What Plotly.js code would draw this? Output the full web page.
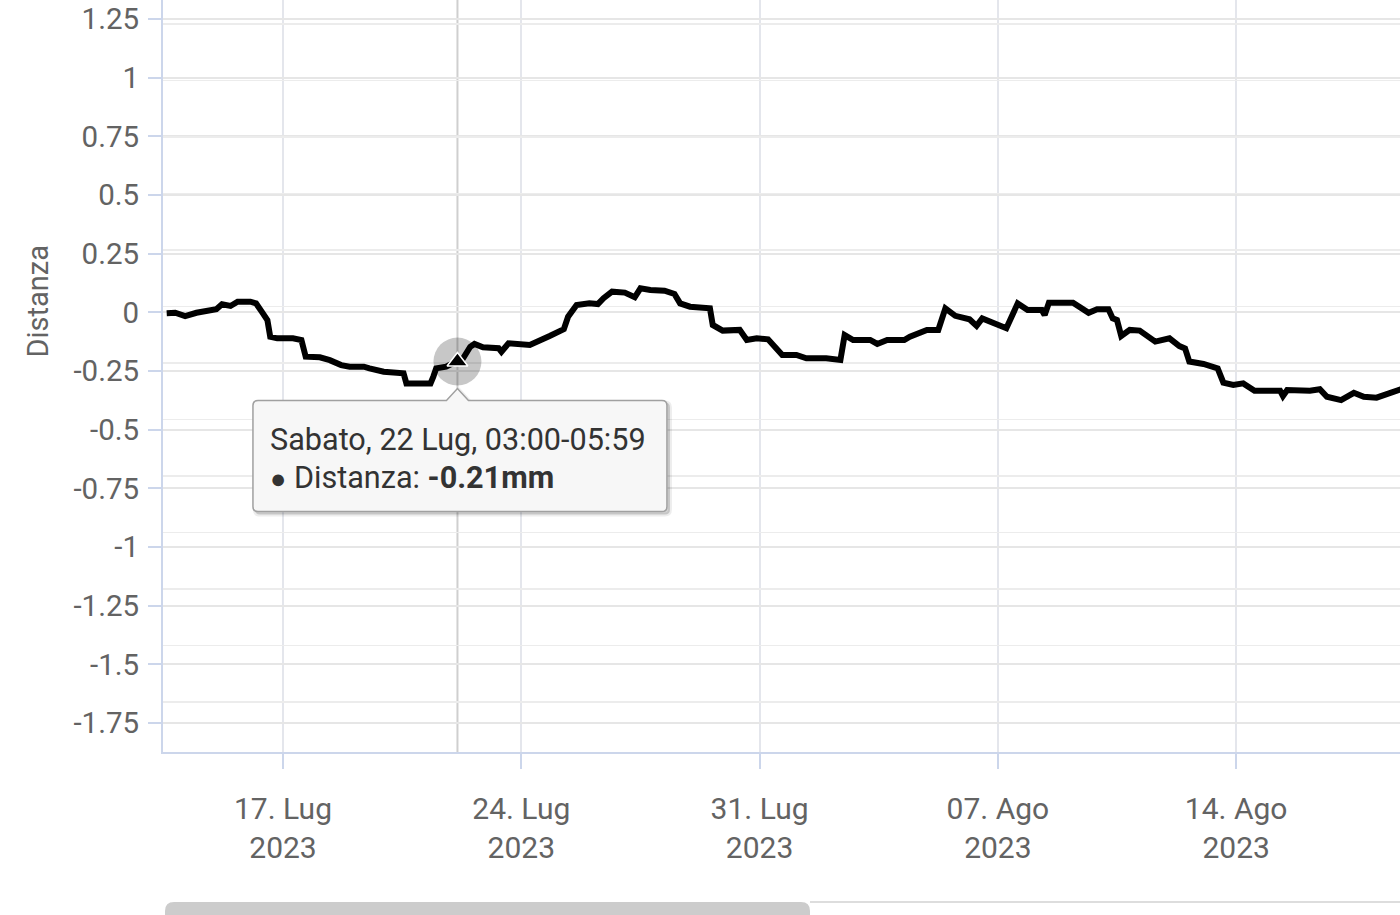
<!DOCTYPE html>
<html>
<head>
<meta charset="utf-8">
<script src="https://cdn.plot.ly/plotly-3.0.1.min.js"></script>
<style>
  html, body { margin: 0; padding: 0; background: #ffffff; }
  #chart { width: 1400px; height: 915px; }
</style>
</head>
<body>
<div id="chart"></div>
<script>
// ---- data ----
const seriesName = "Distanza";
const unit = "mm";
const dates = [
  "2023-07-13 14:00","2023-07-13 20:00","2023-07-14 03:00","2023-07-14 11:00","2023-07-15 01:00",
  "2023-07-15 05:00","2023-07-15 11:00","2023-07-15 16:00","2023-07-16 01:00","2023-07-16 05:00",
  "2023-07-16 09:00","2023-07-16 11:00","2023-07-16 13:00","2023-07-16 15:00","2023-07-16 20:00",
  "2023-07-17 07:00","2023-07-17 13:00","2023-07-17 16:00","2023-07-18 02:00","2023-07-18 09:00",
  "2023-07-18 17:00","2023-07-18 23:00","2023-07-19 09:00","2023-07-19 13:00","2023-07-19 23:00",
  "2023-07-20 13:00","2023-07-20 15:00","2023-07-20 22:00","2023-07-21 08:00","2023-07-21 10:00",
  "2023-07-21 12:00","2023-07-21 19:00","2023-07-22 03:00","2023-07-22 07:00","2023-07-22 12:00",
  "2023-07-22 15:00","2023-07-22 21:00","2023-07-23 08:00","2023-07-23 10:00","2023-07-23 15:00",
  "2023-07-24 06:00","2023-07-24 12:00","2023-07-24 20:00","2023-07-25 06:00","2023-07-25 09:00",
  "2023-07-25 15:00","2023-07-26 00:00","2023-07-26 06:00","2023-07-26 10:00","2023-07-26 16:00",
  "2023-07-27 01:00","2023-07-27 08:00","2023-07-27 12:00","2023-07-27 19:00","2023-07-28 05:00",
  "2023-07-28 12:00","2023-07-28 16:00","2023-07-28 23:00","2023-07-29 13:00","2023-07-29 15:00",
  "2023-07-29 22:00","2023-07-30 10:00","2023-07-30 15:00","2023-07-30 22:00","2023-07-31 06:00",
  "2023-07-31 16:00","2023-08-01 02:00","2023-08-01 09:00","2023-08-01 23:00","2023-08-02 09:00",
  "2023-08-02 12:00","2023-08-02 18:00","2023-08-03 06:00","2023-08-03 11:00","2023-08-03 18:00",
  "2023-08-04 06:00","2023-08-04 10:00","2023-08-04 22:00","2023-08-05 06:00","2023-08-05 11:00",
  "2023-08-05 18:00","2023-08-06 04:00","2023-08-06 09:00","2023-08-06 13:00","2023-08-06 21:00",
  "2023-08-07 06:00","2023-08-07 14:00","2023-08-07 21:00","2023-08-08 07:00","2023-08-08 09:00",
  "2023-08-08 12:00","2023-08-09 05:00","2023-08-09 16:00","2023-08-09 22:00","2023-08-10 06:00",
  "2023-08-10 09:00","2023-08-10 12:00","2023-08-10 15:00","2023-08-10 21:00","2023-08-11 04:00",
  "2023-08-11 15:00","2023-08-12 01:00","2023-08-12 08:00","2023-08-12 12:00","2023-08-12 15:00",
  "2023-08-13 01:00","2023-08-13 11:00","2023-08-13 15:00","2023-08-13 22:00","2023-08-14 05:00",
  "2023-08-14 13:00","2023-08-15 07:00","2023-08-15 09:00","2023-08-15 12:00","2023-08-16 04:00",
  "2023-08-16 11:00","2023-08-16 16:00","2023-08-17 02:00","2023-08-17 11:00","2023-08-17 18:00",
  "2023-08-18 03:00","2023-08-18 08:00","2023-08-18 20:00","2023-08-19 02:00"
];
const values = [
  -0.004,-0.002,-0.016,-0.002,0.013,
  0.034,0.027,0.045,0.045,0.038,
  0.003,-0.019,-0.033,-0.104,-0.111,
  -0.111,-0.118,-0.189,-0.192,-0.204,
  -0.225,-0.232,-0.232,-0.239,-0.253,
  -0.260,-0.303,-0.303,-0.303,-0.274,
  -0.239,-0.232,-0.21,-0.196,-0.147,
  -0.135,-0.149,-0.153,-0.168,-0.132,
  -0.139,-0.125,-0.101,-0.072,-0.019,
  0.031,0.038,0.035,0.060,0.088,
  0.084,0.064,0.102,0.095,0.092,
  0.078,0.038,0.024,0.017,-0.054,
  -0.078,-0.075,-0.118,-0.111,-0.115,
  -0.182,-0.182,-0.196,-0.196,-0.203,
  -0.097,-0.118,-0.118,-0.135,-0.118,
  -0.118,-0.104,-0.075,-0.075,0.017,
  -0.015,-0.030,-0.058,-0.026,-0.044,
  -0.068,0.038,0.010,0.010,-0.012,
  0.041,0.041,-0.002,0.013,0.013,
  -0.026,-0.033,-0.101,-0.075,-0.078,
  -0.125,-0.111,-0.144,-0.154,-0.21,
  -0.22,-0.239,-0.30,-0.31,-0.303,
  -0.334,-0.334,-0.357,-0.331,-0.334,
  -0.328,-0.36,-0.374,-0.343,-0.36,
  -0.364,-0.352,-0.328,-0.318
];
const xTickDates = ["2023-07-17","2023-07-24","2023-07-31","2023-08-07","2023-08-14"];
const xTickLabels = ["17. Lug<br>2023","24. Lug<br>2023","31. Lug<br>2023","07. Ago<br>2023","14. Ago<br>2023"];
const yTickVals = [1.25,1,0.75,0.5,0.25,0,-0.25,-0.5,-0.75,-1,-1.25,-1.5,-1.75];
const yTickLabels = ["1.25","1","0.75","0.5","0.25","0","-0.25","-0.5","-0.75","-1","-1.25","-1.5","-1.75"];
// hovered point (tooltip)
const hoverDate = "2023-07-22 03:00";
const hoverValue = -0.21;
const hoverHeader = "Sabato, 22 Lug, 03:00-05:59";

// ---- styling ----
const FONT = "Roboto, 'Noto Sans', sans-serif";
const labelColor = "#636363";

const traces = [
  { type: "scatter", mode: "lines", x: dates, y: values, name: seriesName,
    line: { color: "#000000", width: 6 }, hoverinfo: "skip" },
  { type: "scatter", mode: "markers", x: [hoverDate], y: [hoverValue], showlegend: false,
    marker: { size: 48, color: "rgba(0,0,0,0.22)", line: { width: 0 } }, hoverinfo: "skip" },
  { type: "scatter", mode: "markers", x: [hoverDate], y: [hoverValue], showlegend: false,
    marker: { symbol: "triangle-up", size: 18, color: "#000000", line: { color: "#ffffff", width: 1.5 } }, hoverinfo: "skip" },
  { type: "scatter", x: [], y: [], yaxis: "y2", showlegend: false, hoverinfo: "skip" }
];

// tooltip box path, pixels relative to the hovered point (y positive upward)
const tipPath = "M -199.5,-39 L -11,-39 L 0,-27 L 11,-39 L 204.5,-39 Q 209.5,-39 209.5,-44 " +
  "L 209.5,-145 Q 209.5,-150 204.5,-150 L -199.5,-150 Q -204.5,-150 -204.5,-145 L -204.5,-44 Q -204.5,-39 -199.5,-39 Z";
const tipShadow = "M -197.5,-41 L -9,-41 L 2,-29 L 13,-41 L 207.5,-41 Q 212.5,-41 212.5,-46 " +
  "L 212.5,-148 Q 212.5,-153 207.5,-153 L -197.5,-153 Q -202.5,-153 -202.5,-148 L -202.5,-46 Q -202.5,-41 -197.5,-41 Z";

const shapes = [
  // crosshair
  { type: "line", xref: "x", yref: "paper", x0: hoverDate, x1: hoverDate, y0: 0, y1: 1,
    line: { color: "#cfcfcf", width: 2 }, layer: "between" },
  // tooltip shadow + box
  { type: "path", xref: "x", yref: "y", xsizemode: "pixel", ysizemode: "pixel",
    xanchor: hoverDate, yanchor: hoverValue, path: tipShadow,
    fillcolor: "rgba(0,0,0,0.16)", line: { color: "rgba(0,0,0,0.07)", width: 4 }, layer: "above" },
  { type: "path", xref: "x", yref: "y", xsizemode: "pixel", ysizemode: "pixel",
    xanchor: hoverDate, yanchor: hoverValue, path: tipPath,
    fillcolor: "#f7f7f7", line: { color: "#a0a0a0", width: 1.5 }, layer: "above" },
  // scrollbar thumb (relative to plot bottom-left)
  { type: "path", xref: "paper", yref: "paper", xsizemode: "pixel", ysizemode: "pixel",
    xanchor: 0, yanchor: 0,
    path: "M 2,-180 L 2,-159 Q 2,-150 11,-150 L 638,-150 Q 647,-150 647,-159 L 647,-180 Z",
    fillcolor: "#cccccc", line: { width: 0 }, layer: "above" },
  // scrollbar track line
  { type: "line", xref: "paper", yref: "paper", xsizemode: "pixel", ysizemode: "pixel",
    xanchor: 0, yanchor: 0, x0: 647, x1: 1300, y0: -150, y1: -150,
    line: { color: "#dddddd", width: 2 }, layer: "above" }
];

const annotations = [
  { xref: "paper", yref: "paper", x: 0, y: 0.599, xshift: -125, text: seriesName, textangle: -90,
    showarrow: false, xanchor: "center", yanchor: "middle",
    font: { family: FONT, size: 29, color: labelColor } },
  { xref: "x", yref: "y", x: hoverDate, y: hoverValue, xshift: -189, yshift: -78,
    xanchor: "left", yanchor: "middle", showarrow: false, text: hoverHeader,
    font: { family: FONT, size: 30.6, color: "#333333" } },
  { xref: "x", yref: "y", x: hoverDate, y: hoverValue, xshift: -189, yshift: -116,
    xanchor: "left", yanchor: "middle", showarrow: false,
    text: "<span style='font-size:27px'>●</span> " + seriesName + ": <b>" + hoverValue.toFixed(2) + unit + "</b>",
    font: { family: FONT, size: 30.6, color: "#333333" } }
];

const layout = {
  width: 1400, height: 915,
  margin: { l: 163, r: 0, t: 0, b: 163, pad: 0 },
  paper_bgcolor: "#ffffff", plot_bgcolor: "#ffffff",
  showlegend: false,
  font: { family: FONT, color: labelColor },
  xaxis: {
    type: "date", range: ["2023-07-13 11:24", "2023-08-18 19:32"],
    tickmode: "array", tickvals: xTickDates, ticktext: xTickLabels,
    ticks: "outside", ticklen: 15, tickwidth: 2, tickcolor: "#ccd6eb",
    ticklabelstandoff: 14,
    showgrid: true, gridcolor: "#e4e6ec", gridwidth: 2,
    showline: true, linecolor: "#ccd6eb", linewidth: 2,
    zeroline: false, fixedrange: true,
    tickfont: { family: FONT, size: 30, color: labelColor }
  },
  yaxis: {
    range: [-1.874, 1.331],
    tickmode: "array", tickvals: yTickVals, ticktext: yTickLabels,
    ticks: "outside", ticklen: 13, tickwidth: 2, tickcolor: "#ccd6eb",
    ticklabelstandoff: 3,
    showgrid: true, gridcolor: "#e6e6e6", gridwidth: 2,
    showline: true, linecolor: "#ccd6eb", linewidth: 2,
    zeroline: false, fixedrange: true,
    tickfont: { family: FONT, size: 29.5, color: labelColor }
  },
  yaxis2: {
    overlaying: "y", side: "left", range: [-6.885, 6.425],
    tickmode: "linear", tick0: 0, dtick: 1,
    showticklabels: false, ticks: "",
    showgrid: true, gridcolor: "#ececec", gridwidth: 1.5,
    showline: false, zeroline: false, fixedrange: true
  },
  shapes: shapes,
  annotations: annotations,
  hovermode: false
};

Plotly.newPlot("chart", traces, layout, { displayModeBar: false, staticPlot: true });
</script>
</body>
</html>
